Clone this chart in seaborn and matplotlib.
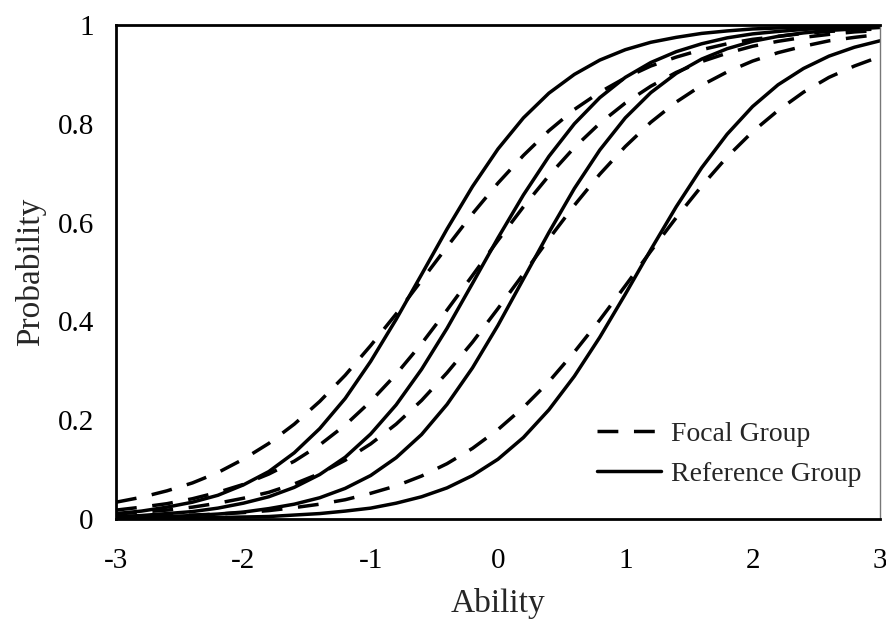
import numpy as np
import pandas as pd
import matplotlib
matplotlib.use("Agg")
import matplotlib.pyplot as plt
from matplotlib.lines import Line2D
import seaborn as sns

# Ability grid (-3 to 3 in steps of 0.2)
ability = np.round(np.linspace(-3, 3, 31), 2)

# Item characteristic curves: probability of a correct response
focal_1 = [0.034, 0.044, 0.057, 0.073, 0.094, 0.121, 0.153, 0.192, 0.238, 0.291, 0.351,
           0.415, 0.483, 0.551, 0.618, 0.680, 0.736, 0.786, 0.829, 0.864, 0.893, 0.917,
           0.935, 0.950, 0.962, 0.971, 0.977, 0.983, 0.987, 0.990, 0.992]
reference_1 = [0.011, 0.016, 0.024, 0.034, 0.048, 0.069, 0.096, 0.134, 0.183, 0.244, 0.319,
               0.404, 0.495, 0.587, 0.673, 0.749, 0.812, 0.862, 0.900, 0.929, 0.950, 0.965,
               0.975, 0.983, 0.988, 0.992, 0.994, 0.996, 0.997, 0.998, 0.999]
focal_2 = [0.018, 0.024, 0.031, 0.041, 0.054, 0.070, 0.091, 0.117, 0.150, 0.190, 0.238,
           0.293, 0.355, 0.423, 0.493, 0.564, 0.632, 0.695, 0.752, 0.801, 0.842, 0.876,
           0.904, 0.926, 0.943, 0.957, 0.967, 0.975, 0.981, 0.986, 0.989]
reference_2 = [0.005, 0.007, 0.011, 0.015, 0.022, 0.032, 0.045, 0.064, 0.090, 0.125, 0.172,
               0.231, 0.303, 0.386, 0.477, 0.569, 0.656, 0.734, 0.800, 0.853, 0.894, 0.924,
               0.946, 0.962, 0.974, 0.982, 0.987, 0.991, 0.994, 0.996, 0.997]
focal_3 = [0.010, 0.014, 0.018, 0.024, 0.032, 0.042, 0.054, 0.071, 0.092, 0.119, 0.152,
           0.192, 0.240, 0.296, 0.358, 0.426, 0.496, 0.567, 0.635, 0.698, 0.754, 0.803,
           0.844, 0.878, 0.905, 0.927, 0.944, 0.957, 0.968, 0.975, 0.981]
reference_3 = [0.002, 0.003, 0.005, 0.007, 0.010, 0.014, 0.021, 0.030, 0.043, 0.062, 0.088,
               0.124, 0.171, 0.232, 0.306, 0.392, 0.486, 0.580, 0.669, 0.747, 0.812, 0.863,
               0.902, 0.931, 0.952, 0.967, 0.977, 0.984, 0.989, 0.992, 0.995]
focal_4 = [0.003, 0.004, 0.006, 0.008, 0.010, 0.013, 0.017, 0.023, 0.030, 0.039, 0.052,
           0.067, 0.087, 0.112, 0.143, 0.181, 0.226, 0.278, 0.338, 0.403, 0.472, 0.542,
           0.610, 0.674, 0.733, 0.784, 0.827, 0.864, 0.894, 0.917, 0.936]
reference_4 = [0.001, 0.001, 0.001, 0.002, 0.003, 0.004, 0.005, 0.008, 0.011, 0.016, 0.022,
               0.032, 0.045, 0.063, 0.088, 0.121, 0.165, 0.221, 0.289, 0.368, 0.455, 0.545,
               0.632, 0.711, 0.779, 0.835, 0.879, 0.912, 0.937, 0.955, 0.968]

groups = ["Focal Group", "Reference Group"]
x_ticks = [-3, -2.5, -2, -1.5, -1, -0.5, 0, 0.5, 1, 1.5, 2, 2.5, 3]
x_tick_labels = ["-3", "", "-2", "", "-1", "", "0", "", "1", "", "2", "", "3"]
y_ticks = [0, 0.2, 0.4, 0.6, 0.8, 1]
y_tick_labels = ["0", "0.2", "0.4", "0.6", "0.8", "1"]

curves = {
    (1, groups[0]): focal_1, (1, groups[1]): reference_1,
    (2, groups[0]): focal_2, (2, groups[1]): reference_2,
    (3, groups[0]): focal_3, (3, groups[1]): reference_3,
    (4, groups[0]): focal_4, (4, groups[1]): reference_4,
}
frames = []
for (item, group), values in curves.items():
    frames.append(pd.DataFrame({"ability": ability, "probability": values,
                                "item": item, "group": group}))
df = pd.concat(frames, ignore_index=True)

sns.set_theme(style="white")
plt.rcParams["font.family"] = ["Liberation Serif", "DejaVu Serif"]

fig = plt.figure(figsize=(8.87, 6.22), dpi=100)
ax = fig.add_axes([0.1308, 0.1656, 0.8612, 0.7942])

line_w = 2.5
dash_styles = {groups[0]: (6, 4.5), groups[1]: ""}
sns.lineplot(data=df, x="ability", y="probability", units="item", style="group",
             estimator=None, color="black", linewidth=line_w, legend=False,
             dashes=dash_styles, ax=ax)

ax.set_xlim(-3, 3)
ax.set_ylim(0, 1)
ax.set_xticks(x_ticks)
ax.set_xticklabels(x_tick_labels)
ax.set_yticks(y_ticks)
ax.set_yticklabels(y_tick_labels)
ax.tick_params(direction="out", length=7, width=1.5, colors="black", labelsize=21, pad=9)
ax.tick_params(axis="x", pad=14)
for s in ["left", "bottom", "top"]:
    ax.spines[s].set_color("black")
    ax.spines[s].set_linewidth(2)
ax.spines["right"].set_color("#777777")
ax.spines["right"].set_linewidth(1)

ax.set_xlabel("Ability", fontsize=24, labelpad=10)
ax.set_ylabel("Probability", fontsize=24, labelpad=8)

handles = [Line2D([], [], color="black", lw=line_w, dashes=dash_styles[groups[0]]),
           Line2D([], [], color="black", lw=line_w)]
ax.legend(handles, groups, loc="upper left",
          bbox_to_anchor=(0.63, 0.198), frameon=False, fontsize=20, handlelength=2.3,
          labelspacing=0.52, handletextpad=0.36, borderpad=0, borderaxespad=0)

fig.savefig("out.png", dpi=100)
